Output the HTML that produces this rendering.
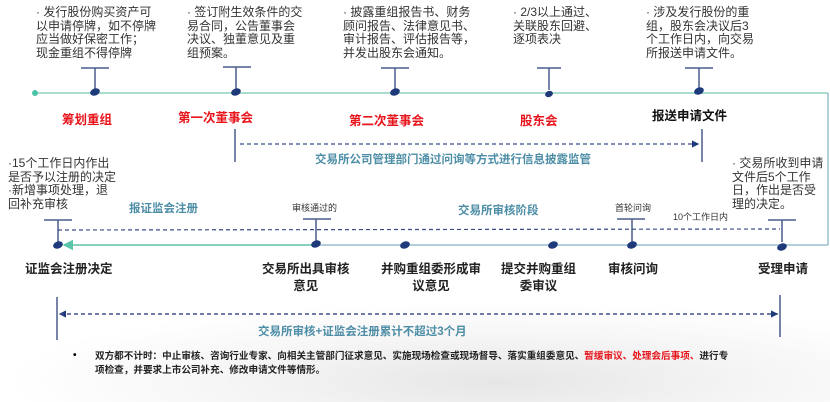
<!DOCTYPE html>
<html><head><meta charset="utf-8"><style>
body{margin:0;width:830px;height:402px;background:#fff;position:relative;overflow:hidden;font-family:"Liberation Sans","Noto Sans CJK SC",sans-serif;}
.a{position:absolute;white-space:nowrap;}
.t{font-size:12px;line-height:13.5px;color:#333;}
.r{color:#e8141b;font-weight:bold;font-size:12.5px;}
.b{color:#222;font-weight:bold;font-size:12.5px;line-height:17px;text-align:center;}
.c{color:#4d8ea6;font-weight:bold;font-size:11.5px;}
.s{font-size:9px;color:#333;}
</style></head><body>
<div style="position:absolute;left:0;top:300px;width:830px;height:102px;background:radial-gradient(ellipse at 60% 80%,#e6e6e6 0%,#f6f6f6 40%,#fff 70%);"></div>
<svg class="a" style="left:0;top:0" width="830" height="402">
<defs>
<marker id="ar" markerWidth="6" markerHeight="6" refX="5" refY="3" orient="auto"><path d="M0,0L6,3L0,6z" fill="#1f3a7a"/></marker>
<marker id="gr" markerWidth="7" markerHeight="7" refX="6" refY="3.5" orient="auto"><path d="M0,0L7,3.5L0,7z" fill="#5cc4a8"/></marker>
</defs>
<line x1="35" y1="93" x2="828" y2="93" stroke="#8fd0c0" stroke-width="1.5"/>
<line x1="828" y1="93" x2="828" y2="245" stroke="#9bbfd0" stroke-width="1.5"/>
<line x1="316" y1="245" x2="828" y2="245" stroke="#9bbfd0" stroke-width="1.5"/>
<line x1="316" y1="245" x2="64" y2="245" stroke="#5cc4a8" stroke-width="1.5" marker-end="url(#gr)"/>
<circle cx="35" cy="93" r="3" fill="#4cc3a5"/>
<g stroke="#4a5a8a" stroke-width="1.5">
<line x1="81" y1="68" x2="109" y2="68"/><line x1="95" y1="68" x2="95" y2="90"/>
<line x1="223" y1="67" x2="251" y2="67"/><line x1="236" y1="67" x2="236" y2="90"/>
<line x1="381" y1="68" x2="409" y2="68"/><line x1="395" y1="68" x2="395" y2="90"/>
<line x1="537" y1="68" x2="561" y2="68"/><line x1="549" y1="68" x2="549" y2="90"/>
<line x1="685" y1="68" x2="713" y2="68"/><line x1="699" y1="68" x2="699" y2="89"/>
<line x1="44" y1="220" x2="72" y2="220"/><line x1="58" y1="220" x2="58" y2="242"/>
<line x1="303" y1="219" x2="331" y2="219"/><line x1="316" y1="219" x2="316" y2="242"/>
<line x1="617" y1="219" x2="645" y2="219"/><line x1="632" y1="219" x2="632" y2="242"/>
<line x1="768" y1="220" x2="796" y2="220"/><line x1="782" y1="220" x2="782" y2="242"/>
<line x1="235" y1="129" x2="235" y2="162"/><line x1="702" y1="129" x2="702" y2="162"/>
<line x1="57" y1="297" x2="57" y2="340"/><line x1="780" y1="295" x2="780" y2="337"/>
</g>
<g fill="#1f3a7a">
<ellipse cx="95" cy="92" rx="5" ry="3.5" transform="rotate(-20 95 92)"/>
<ellipse cx="236" cy="92" rx="5" ry="3.5" transform="rotate(-20 236 92)"/>
<ellipse cx="395" cy="92" rx="5" ry="3.5" transform="rotate(-20 395 92)"/>
<ellipse cx="549" cy="94" rx="4" ry="3" transform="rotate(-20 549 94)"/>
<ellipse cx="699" cy="91" rx="5" ry="3.5" transform="rotate(-20 699 91)"/>
<ellipse cx="58" cy="245" rx="5" ry="3.5" transform="rotate(-20 58 245)"/>
<ellipse cx="316" cy="244" rx="5" ry="3.5" transform="rotate(-20 316 244)"/>
<ellipse cx="405" cy="245" rx="5" ry="3.5" transform="rotate(-20 405 245)"/>
<ellipse cx="553" cy="245" rx="5" ry="3.5" transform="rotate(-20 553 245)"/>
<ellipse cx="632" cy="245" rx="5" ry="3.5" transform="rotate(-20 632 245)"/>
<ellipse cx="782" cy="247" rx="5" ry="3.5" transform="rotate(-20 782 247)"/>
</g>
<g stroke="#3a4a8a" stroke-width="1.2" stroke-dasharray="4,3" fill="none">
<line x1="698" y1="144" x2="240" y2="144" marker-end="url(#ar)" transform="rotate(180 469 144)"/>
<line x1="58" y1="230" x2="780" y2="229"/>
<line x1="778" y1="314" x2="60" y2="314" marker-end="url(#ar)"/>
<line x1="60" y1="314" x2="777" y2="314" marker-end="url(#ar)"/>
</g>
</svg>
<div class="a t" style="left:36px;top:6px">· 发行股份购买资产可<br>以申请停牌，如不停牌<br>应当做好保密工作；<br>现金重组不得停牌</div>
<div class="a t" style="left:187px;top:6px">· 签订附生效条件的交<br>易合同，公告董事会<br>决议、独董意见及重<br>组预案。</div>
<div class="a t" style="left:343px;top:6px">· 披露重组报告书、财务<br>顾问报告、法律意见书、<br>审计报告、评估报告等，<br>并发出股东会通知。</div>
<div class="a t" style="left:513px;top:6px">· 2/3以上通过、<br>关联股东回避、<br>逐项表决</div>
<div class="a t" style="left:646px;top:6px">· 涉及发行股份的重<br>组，股东会决议后3<br>个工作日内，向交易<br>所报送申请文件。</div>
<div class="a r" style="left:62px;top:109px">筹划重组</div>
<div class="a r" style="left:178px;top:107px">第一次董事会</div>
<div class="a r" style="left:349px;top:110px">第二次董事会</div>
<div class="a r" style="left:520px;top:110px">股东会</div>
<div class="a b" style="left:652px;top:108px;color:#111">报送申请文件</div>
<div class="a c" style="left:315px;top:151px">交易所公司管理部门通过问询等方式进行信息披露监管</div>
<div class="a t" style="left:8px;top:157px">·15个工作日内作出<br>是否予以注册的决定<br>·新增事项处理，退<br>回补充审核</div>
<div class="a t" style="left:732px;top:157px">· 交易所收到申请<br>文件后5个工作<br>日，作出是否受<br>理的决定。</div>
<div class="a c" style="left:129px;top:200px">报证监会注册</div>
<div class="a s" style="left:292px;top:201px">审核通过的</div>
<div class="a c" style="left:458px;top:202px">交易所审核阶段</div>
<div class="a s" style="left:615px;top:201px">首轮问询</div>
<div class="a s" style="left:673px;top:210px">10个工作日内</div>
<div class="a b" style="left:25px;top:261px">证监会注册决定</div>
<div class="a b" style="left:262px;top:261px">交易所出具审核<br>意见</div>
<div class="a b" style="left:381px;top:261px">并购重组委形成审<br>议意见</div>
<div class="a b" style="left:501px;top:261px">提交并购重组<br>委审议</div>
<div class="a b" style="left:608px;top:261px">审核问询</div>
<div class="a b" style="left:758px;top:261px">受理申请</div>
<div class="a c" style="left:258px;top:323px">交易所审核+证监会注册累计不超过3个月</div>
<div class="a" style="left:73px;top:350px;font-size:10px;font-weight:bold">•</div>
<div class="a" style="left:95px;top:350px;font-size:9.6px;line-height:14px;font-weight:bold;color:#222">双方都不计时：中止审核、咨询行业专家、向相关主管部门征求意见、实施现场检查或现场督导、落实重组委意见、<span style="color:#e8141b">暂缓审议、处理会后事项、</span>进行专<br>项检查，并要求上市公司补充、修改申请文件等情形。</div>
</body></html>
